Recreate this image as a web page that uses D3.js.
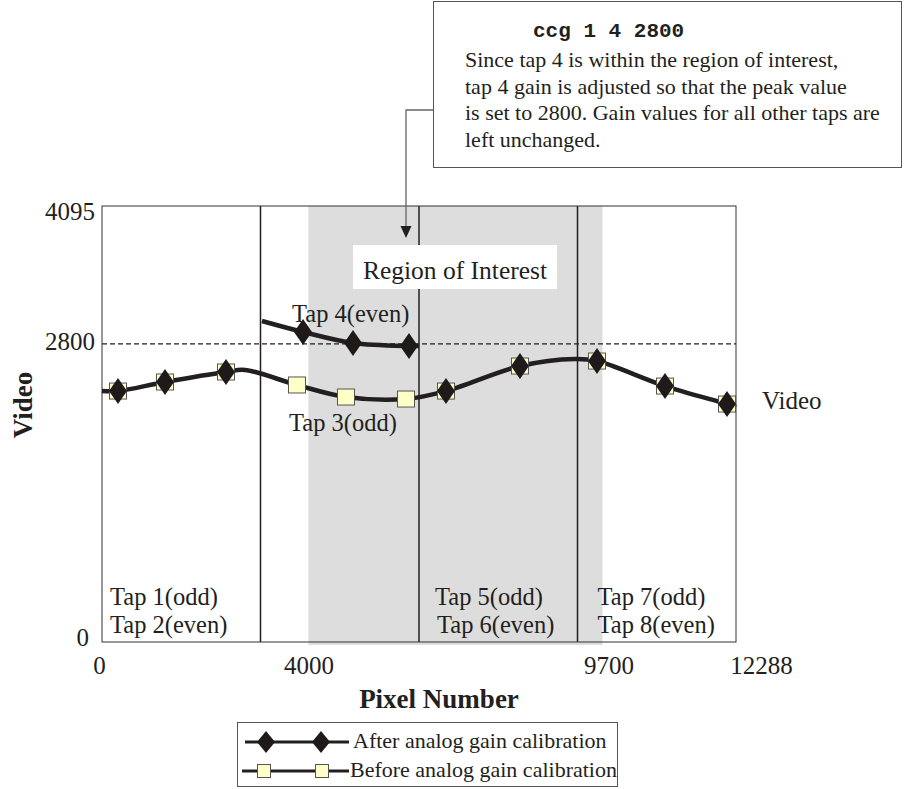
<!DOCTYPE html>
<html>
<head>
<meta charset="utf-8">
<script src="https://cdn.jsdelivr.net/npm/d3@7"></script>
<style>
  body { margin: 0; background: #fff; }
  svg { display: block; }
  text { font-family: "Liberation Serif", "Times New Roman", serif; fill: #231f20; }
  text.mono { font-family: "Liberation Mono", "Courier New", monospace; font-weight: bold; }
</style>
</head>
<body>
<svg id="chart" width="904" height="789"></svg>
<script>
// pixel range and level
const xDomain = [0, 12288];
const yDomain = [0, 4095];
const xTickValues = [0, 4000, 9700, 12288];
const yTickValues = [0, 2800, 4095];
const targetLevel = 2800;
const tapBounds = [3072, 6144, 9216];
const roiRange = [4000, 9700];

// the video curve (before calibration, and after outside tap 4)
const videoX = [0, 310, 1221, 2403, 2772, 3779, 4729, 5892, 6667, 8101, 9167, 9594, 10912, 12114, 12288];
const videoY = [2357, 2357, 2442, 2536, 2555, 2414, 2301, 2282, 2357, 2592, 2658, 2639, 2404, 2235, 2207];

// tap 4 after gain adjustment
const tap4X = [3101, 3896, 4865, 5950, 6144];
const tap4Y = [3015, 2912, 2808, 2780, 2780];

// markers
const beforeX = [310, 1221, 2403, 3779, 4729, 5892, 6667, 8101, 9594, 10912, 12114];
const beforeY = [2357, 2442, 2536, 2414, 2301, 2282, 2357, 2592, 2639, 2404, 2235];
const afterX = [310, 1221, 2403, 3896, 4865, 5950, 6667, 8101, 9594, 10912, 12114];
const afterY = [2357, 2442, 2536, 2912, 2808, 2780, 2357, 2592, 2639, 2404, 2235];

// bottom tap labels, anchored at the left edge of each tap pair
const tapLabelStart = [0, 6144, 9216];
const tapLabelLines = [
    ["Tap 1(odd)", "Tap 2(even)"],
    ["Tap 5(odd)", "Tap 6(even)"],
    ["Tap 7(odd)", "Tap 8(even)"]
];

const noteLines = [
    "Since tap 4 is within the region of interest,",
    "tap 4 gain is adjusted so that the peak value",
    "is set to 2800. Gain values for all other taps are",
    "left unchanged."
];

const legendItems = ["After analog gain calibration", "Before analog gain calibration"];

const ink = "#231f20";
const svg = d3.select("#chart");

const x = d3.scaleLinear().domain(xDomain).range([102, 736]);
const y = d3.scaleLinear().domain(yDomain).range([642, 206]);

const diamond = (w, h) => `M0,${-h / 2}L${w / 2},0L0,${h / 2}L${-w / 2},0Z`;

// region of interest shading
svg.append("rect")
    .attr("x", x(roiRange[0]))
    .attr("y", y(4095))
    .attr("width", x(roiRange[1]) - x(roiRange[0]))
    .attr("height", y(0) - y(4095) + 3)
    .attr("fill", "#dddddd");

// tap boundaries
svg.append("g").selectAll("line")
    .data(tapBounds)
    .enter()
    .append("line")
    .attr("x1", d => x(d)).attr("x2", d => x(d))
    .attr("y1", y(4095)).attr("y2", y(0))
    .attr("stroke", ink)
    .attr("stroke-width", 1.5);

// 2800 level
svg.append("line")
    .attr("x1", x(0)).attr("x2", x(12288))
    .attr("y1", y(targetLevel)).attr("y2", y(targetLevel))
    .attr("stroke", ink)
    .attr("stroke-width", 1.3)
    .attr("stroke-dasharray", "5,3");

// frame
svg.append("rect")
    .attr("x", x(0)).attr("y", y(4095))
    .attr("width", x(12288) - x(0))
    .attr("height", y(0) - y(4095))
    .attr("fill", "none")
    .attr("stroke", "#333")
    .attr("stroke-width", 1);

// axes
const yAxis = svg.append("g")
    .attr("transform", `translate(${x(0)},0)`)
    .call(d3.axisLeft(y).tickValues(yTickValues).tickSize(0).tickPadding(7).tickFormat(d3.format("d")));
yAxis.select(".domain").remove();
yAxis.selectAll("text")
    .attr("font-size", 25)
    .attr("fill", ink)
    .attr("dx", d => d === 0 ? -6 : 0)
    .attr("dy", d => d === 4095 ? "0.55em" : (d === 2800 ? "0.22em" : "0.15em"));

const xAxis = svg.append("g")
    .attr("transform", `translate(0,${y(0)})`)
    .call(d3.axisBottom(x).tickValues(xTickValues).tickSize(0).tickPadding(14).tickFormat(d3.format("d")));
xAxis.select(".domain").remove();
xAxis.selectAll("text")
    .attr("font-size", 25)
    .attr("fill", ink)
    .attr("dx", d => d === 12288 ? 25 : (d === 0 ? -3 : (d === 9700 ? 6 : 0)));

// curves
const line = d3.line()
    .x(d => x(d[0]))
    .y(d => y(d[1]))
    .curve(d3.curveCatmullRom.alpha(0.5));

svg.append("path")
    .attr("d", line(d3.zip(videoX, videoY)))
    .attr("fill", "none")
    .attr("stroke", ink)
    .attr("stroke-width", 4.5);

svg.append("path")
    .attr("d", line(d3.zip(tap4X, tap4Y)))
    .attr("fill", "none")
    .attr("stroke", ink)
    .attr("stroke-width", 4.5);

// before markers
svg.append("g").selectAll("rect")
    .data(d3.zip(beforeX, beforeY))
    .enter()
    .append("rect")
    .attr("x", d => x(d[0]) - 8.5)
    .attr("y", d => y(d[1]) - 8)
    .attr("width", 17)
    .attr("height", 16)
    .attr("fill", "#ffffc8")
    .attr("stroke", "#555")
    .attr("stroke-width", 1);

// after markers
svg.append("g").selectAll("path")
    .data(d3.zip(afterX, afterY))
    .enter()
    .append("path")
    .attr("transform", d => `translate(${x(d[0])},${y(d[1])})`)
    .attr("d", diamond(18, 26))
    .attr("fill", "#1e1a1a");

// region of interest label
svg.append("rect")
    .attr("x", 353).attr("y", 245)
    .attr("width", 204).attr("height", 44)
    .attr("fill", "#fff");
svg.append("text")
    .attr("x", 455).attr("y", 279)
    .attr("text-anchor", "middle")
    .attr("font-size", 25.5)
    .text("Region of Interest");

// tap labels
svg.append("text").attr("x", 292).attr("y", 322).attr("font-size", 24.5).text("Tap 4(even)");
svg.append("text").attr("x", 289).attr("y", 431).attr("font-size", 24.5).text("Tap 3(odd)");

tapLabelLines.forEach((lines, k) => {
    const tx = x(tapLabelStart[k]) + (k === 0 ? 8 : (k === 1 ? 16 : 20));
    lines.forEach((s, i) => {
        svg.append("text")
            .attr("x", tx + (i === 1 && k === 1 ? 2 : 0))
            .attr("y", 605 + i * 28)
            .attr("font-size", 24.5)
            .text(s);
    });
});

svg.append("text").attr("x", 762).attr("y", 409).attr("font-size", 25).text("Video");

// axis titles
svg.append("text")
    .attr("x", 439).attr("y", 708)
    .attr("text-anchor", "middle")
    .attr("font-size", 27)
    .attr("font-weight", "bold")
    .text("Pixel Number");

svg.append("text")
    .attr("transform", "translate(32,405) rotate(-90)")
    .attr("text-anchor", "middle")
    .attr("font-size", 27)
    .attr("font-weight", "bold")
    .text("Video");

// annotation box
svg.append("rect")
    .attr("x", 433.5).attr("y", 1.5)
    .attr("width", 468).attr("height", 166)
    .attr("fill", "#fff")
    .attr("stroke", "#555")
    .attr("stroke-width", 1);

svg.append("text")
    .attr("class", "mono")
    .attr("x", 533).attr("y", 37)
    .attr("font-size", 21)
    .text("ccg 1 4 2800");

svg.append("g").selectAll("text")
    .data(noteLines)
    .enter()
    .append("text")
    .attr("x", 465)
    .attr("y", (d, i) => 67 + i * 26.5)
    .attr("font-size", 22)
    .text(d => d);

// arrow
svg.append("path")
    .attr("d", "M433,110H406V228")
    .attr("fill", "none")
    .attr("stroke", "#666")
    .attr("stroke-width", 1.3);
svg.append("path")
    .attr("d", "M400.5,226L411.5,226L406,238Z")
    .attr("fill", ink);

// legend
const legend = svg.append("g");
legend.append("rect")
    .attr("x", 237.5).attr("y", 722.5)
    .attr("width", 380).attr("height", 64)
    .attr("fill", "#fff")
    .attr("stroke", "#555")
    .attr("stroke-width", 1);

legendItems.forEach((label, i) => {
    const ly = 742 + i * 29;
    legend.append("line")
        .attr("x1", i === 0 ? 245 : 242).attr("x2", 349)
        .attr("y1", ly).attr("y2", ly)
        .attr("stroke", ink)
        .attr("stroke-width", 3);
    [0, 1].forEach(k => {
        if (i === 0) {
            legend.append("path")
                .attr("transform", `translate(${266 + k * 55},${ly})`)
                .attr("d", diamond(18, 22))
                .attr("fill", "#1e1a1a");
        } else {
            legend.append("rect")
                .attr("x", 264 + k * 58 - 6.5).attr("y", ly - 6.5)
                .attr("width", 13).attr("height", 13)
                .attr("fill", "#ffffc8")
                .attr("stroke", "#555");
        }
    });
    legend.append("text")
        .attr("x", i === 0 ? 353 : 350)
        .attr("y", ly + 6)
        .attr("font-size", 22)
        .text(label);
});
</script>
</body>
</html>
